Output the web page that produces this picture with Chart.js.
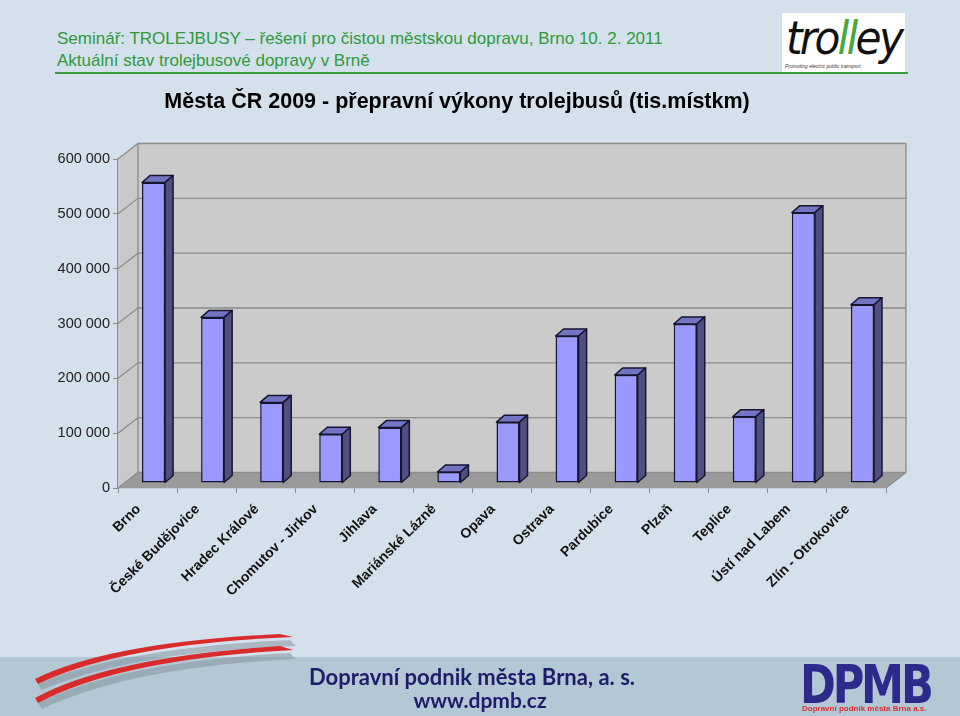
<!DOCTYPE html>
<html>
<head>
<meta charset="utf-8">
<script src="https://cdn.jsdelivr.net/npm/chart.js@4.4.1/dist/chart.umd.min.js"></script>
<style>
  html, body { margin:0; padding:0; }
  body { width:960px; height:716px; position:relative; overflow:hidden; background:#d4e0eb; font-family:"Liberation Sans", Arial, sans-serif; }
  #band { position:absolute; left:0; top:657px; width:960px; height:59px; background:#b3c7d4; }
  #chartWrap { position:absolute; left:0; top:0; width:960px; height:716px; }
  .hdr { position:absolute; left:57px; color:#2f9a3b; font-size:17px; white-space:nowrap; }
  #hline { position:absolute; left:55px; top:72px; width:853px; height:2px; background:#3a9b3a; }
  #trolley { position:absolute; left:782px; top:13px; width:123px; height:59px; background:#fff; overflow:hidden; }
  #trolley .word { position:absolute; left:4px; top:-2px; font-family:"DejaVu Sans", sans-serif; font-style:italic; font-size:46px; color:#111; letter-spacing:-3px; transform:scaleX(0.92); transform-origin:left top; }
  #trolley .word span { color:#49a83a; }
  #trolley .sub { position:absolute; left:3px; top:50px; font-size:5px; font-style:italic; color:#333; white-space:nowrap; }
  #foot1 { position:absolute; left:0; width:944px; top:663px; text-align:center; font-family:"Lato","Open Sans",sans-serif; font-weight:bold; font-size:22px; color:#1d1d6b; }
  #foot2 { position:absolute; left:0; width:960px; top:687px; text-align:center; font-family:"Lato","Open Sans",sans-serif; font-weight:bold; font-size:21px; color:#1d1d6b; }
  #dpmb { position:absolute; left:800px; top:653px; font-family:"DejaVu Sans", sans-serif; font-weight:bold; font-size:54px; color:#2b2b8c; letter-spacing:-4px; transform:scaleX(0.8); transform-origin:left top; }
  #dpmbsub { position:absolute; left:802px; top:704px; font-size:8px; font-weight:bold; color:#d93030; white-space:nowrap; }
  #swoosh { position:absolute; left:0; top:600px; }
</style>
</head>
<body>
<div id="band"></div>
<svg id="swoosh" width="320" height="116" viewBox="0 600 320 116">
  <path d="M38,684 Q120,648 290,640 L296,646 Q130,652 42,690 Z" fill="#7f8f99" opacity="0.5"/>
  <path d="M38,703 Q120,662 290,653 L296,659 Q130,667 42,709 Z" fill="#7f8f99" opacity="0.5"/>
  <path d="M35,679 Q110,642 280,634 L293,637 Q120,644 38,684 Z" fill="#d92b2b"/>
  <path d="M35,698 Q110,657 280,646 L293,650 Q120,659 38,703 Z" fill="#d92b2b"/>
</svg>
<div class="hdr" style="top:29px;">Seminář: TROLEJBUSY – řešení pro čistou městskou dopravu, Brno 10. 2. 2011</div>
<div class="hdr" style="top:51px;">Aktuální stav trolejbusové dopravy v Brně</div>
<div id="hline"></div>
<div id="trolley"><div class="word">tro<span>ll</span>ey</div><div class="sub">Promoting electric public transport</div></div>
<div id="chartWrap"><canvas id="c" width="960" height="716"></canvas></div>
<div id="foot1">Dopravní podnik města Brna, a. s.</div>
<div id="foot2">www.dpmb.cz</div>
<div id="dpmb">DPMB</div>
<div id="dpmbsub">Dopravní podnik města Brna a.s.</div>
<script>
const categories = ["Brno","České Budějovice","Hradec Králové","Chomutov - Jirkov","Jihlava","Mariánské Lázně","Opava","Ostrava","Pardubice","Plzeň","Teplice","Ústí nad Labem","Zlín - Otrokovice"];
const values = [548000,302000,147000,89000,101000,20000,111000,268000,197000,290000,121000,493000,325000];
const yTicks = [0,100000,200000,300000,400000,500000,600000];
const chartTitle = "Města ČR 2009 - přepravní výkony trolejbusů (tis.místkm)";

const WALL_DX = 20, WALL_DY = -15.5;   // depth of the 3D box
const BAR_DX = 6, BAR_DY = -5;         // bar plane inside the box
const TOP_DX = 8, TOP_DY = -7;         // bar depth

const fmt = v => String(v).replace(/\B(?=(\d{3})+(?!\d))/g, " ");

const box3d = {
  id: 'box3d',
  beforeDatasetsDraw(chart) {
    const ctx = chart.ctx, a = chart.chartArea, y = chart.scales.y;
    const L = a.left, R = a.right, T = y.getPixelForValue(yTicks[yTicks.length-1]), B = y.getPixelForValue(0);
    ctx.save();
    ctx.fillStyle = '#cbcbcb';
    ctx.fillRect(L+WALL_DX, T+WALL_DY, R-L, B-T);
    ctx.beginPath();
    ctx.moveTo(L, T); ctx.lineTo(L+WALL_DX, T+WALL_DY); ctx.lineTo(L+WALL_DX, B+WALL_DY); ctx.lineTo(L, B); ctx.closePath();
    ctx.fillStyle = '#c9c9c9'; ctx.fill();
    ctx.beginPath();
    ctx.moveTo(L, B); ctx.lineTo(R, B); ctx.lineTo(R+WALL_DX, B+WALL_DY); ctx.lineTo(L+WALL_DX, B+WALL_DY); ctx.closePath();
    ctx.fillStyle = '#9a9a9a'; ctx.fill();
    ctx.strokeStyle = '#8c8c8c'; ctx.lineWidth = 1.3;
    yTicks.forEach(v => {
      const py = y.getPixelForValue(v);
      ctx.beginPath();
      ctx.moveTo(L, py); ctx.lineTo(L+WALL_DX, py+WALL_DY); ctx.lineTo(R+WALL_DX, py+WALL_DY);
      ctx.stroke();
    });
    ctx.beginPath();
    ctx.moveTo(L+WALL_DX, T+WALL_DY); ctx.lineTo(L+WALL_DX, B+WALL_DY);
    ctx.moveTo(R+WALL_DX, T+WALL_DY); ctx.lineTo(R+WALL_DX, B+WALL_DY); ctx.lineTo(R, B);
    ctx.stroke();
    ctx.restore();
    ctx.save();
    ctx.translate(BAR_DX, BAR_DY);
  },
  afterDatasetsDraw(chart) {
    const ctx = chart.ctx;
    const meta = chart.getDatasetMeta(0);
    ctx.lineWidth = 1.5; ctx.strokeStyle = '#151530'; ctx.lineJoin = 'round';
    meta.data.forEach(bar => {
      const p = bar.getProps(['x','y','base','width'], true);
      const l = p.x - p.width/2, r = p.x + p.width/2, t = p.y, b = p.base;
      ctx.beginPath();
      ctx.moveTo(l, t); ctx.lineTo(l+TOP_DX, t+TOP_DY); ctx.lineTo(r+TOP_DX, t+TOP_DY); ctx.lineTo(r, t); ctx.closePath();
      ctx.fillStyle = '#7474c4'; ctx.fill(); ctx.stroke();
      ctx.beginPath();
      ctx.moveTo(r, t); ctx.lineTo(r+TOP_DX, t+TOP_DY); ctx.lineTo(r+TOP_DX, b+TOP_DY); ctx.lineTo(r, b); ctx.closePath();
      ctx.fillStyle = '#505080'; ctx.fill(); ctx.stroke();
    });
    ctx.restore();
  }
};

new Chart(document.getElementById('c'), {
  type: 'bar',
  data: {
    labels: categories,
    datasets: [{
      data: values,
      backgroundColor: '#9999ff',
      borderColor: '#151530',
      borderWidth: 1.5,
      borderSkipped: false,
      categoryPercentage: 1,
      barPercentage: 0.39
    }]
  },
  options: {
    responsive: false,
    animation: false,
    layout: { padding: { top: 80, left: 28, right: 74, bottom: 0 } },
    plugins: {
      legend: { display: false },
      tooltip: { enabled: false },
      title: {
        display: true, text: chartTitle, color: '#000',
        font: { family: 'Liberation Sans', size: 21.5, weight: 'bold' },
        padding: { top: 9.1, bottom: 44.1 }
      }
    },
    scales: {
      x: {
        grid: { display: true, drawOnChartArea: false, drawTicks: true, tickLength: 5, color: '#8c8c8c', offset: true },
        border: { display: true, color: '#8c8c8c', width: 1.3 },
        ticks: { minRotation: 45, maxRotation: 45, autoSkip: false, color: '#111', padding: 8, labelOffset: -9,
                 font: { family: 'Liberation Sans', size: 14, weight: 'bold' } },
        afterFit: s => { s.height = 228; }
      },
      y: {
        min: 0, max: 600000,
        afterBuildTicks: s => { s.ticks = yTicks.map(v => ({ value: v })); },
        grid: { drawOnChartArea: false, drawTicks: true, tickLength: 5, color: '#8c8c8c' },
        border: { display: true, color: '#8c8c8c', width: 1.3 },
        ticks: { color: '#222', padding: 3, font: { family: 'Liberation Sans', size: 14.5 }, callback: v => fmt(v) },
        afterFit: s => { s.width = 90; }
      }
    }
  },
  plugins: [box3d]
});
</script>
</body>
</html>
